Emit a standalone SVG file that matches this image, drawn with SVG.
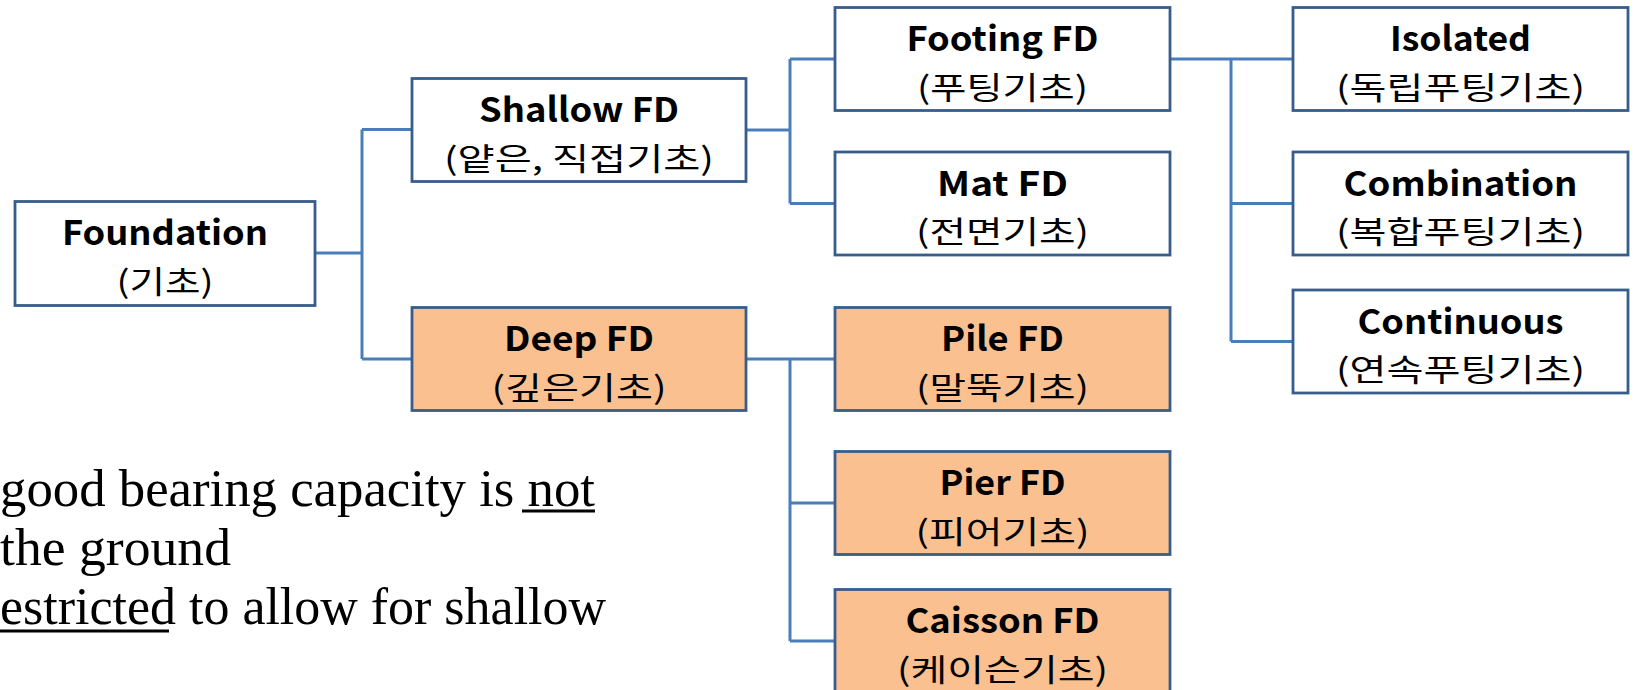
<svg xmlns="http://www.w3.org/2000/svg" width="1634" height="690" viewBox="0 0 1634 690">
<style>
.box{fill:#FFFFFF;stroke:#385D8A;stroke-width:2.8}
.deep{fill:#FAC090;stroke:#385D8A;stroke-width:2.8}
.t{font-family:"Noto Sans CJK KR","Open Sans",sans-serif;font-weight:bold;font-size:34px;fill:#000;text-anchor:middle}
.k{font-family:"Noto Sans CJK KR",sans-serif;font-size:31px;fill:#000;text-anchor:middle}
.conn{fill:none;stroke:#4A7EBB;stroke-width:3}
.body{font-family:"Liberation Serif","DejaVu Serif",serif;font-size:53px;fill:#000}
.ul{stroke:#000;stroke-width:3}
</style>
<rect width="1634" height="690" fill="#FFFFFF"/>
<g id="connectors">
<path class="conn" d="M315,253 H362 M362,129.5 V359 M362,129.5 H412 M362,359 H412"/>
<path class="conn" d="M746,130 H790 M790,59 V203.5 M790,59 H835 M790,203.5 H835"/>
<path class="conn" d="M1170,59 H1293 M1231,59 V341.5 M1231,203.5 H1293 M1231,341.5 H1293"/>
<path class="conn" d="M746,359 H835 M790,359 V641 M790,503 H835 M790,641 H835"/>
</g>
<g id="foundation">
<rect class="box" x="15" y="201.5" width="300" height="104"/>
<text class="t" x="165" y="245" textLength="206" lengthAdjust="spacingAndGlyphs">Foundation</text>
<text class="k" x="165" y="292.5" textLength="97" lengthAdjust="spacingAndGlyphs">(기초)</text>
</g>
<g id="shallow">
<rect class="box" x="412" y="78.5" width="334" height="103"/>
<text class="t" x="579" y="122" textLength="200" lengthAdjust="spacingAndGlyphs">Shallow FD</text>
<text class="k" x="579" y="169.5" textLength="270" lengthAdjust="spacingAndGlyphs">(얕은, 직접기초)</text>
</g>
<g id="deep">
<rect class="deep" x="412" y="307.5" width="334" height="103"/>
<text class="t" x="579" y="351" textLength="150" lengthAdjust="spacingAndGlyphs">Deep FD</text>
<text class="k" x="579" y="398.5" textLength="175" lengthAdjust="spacingAndGlyphs">(깊은기초)</text>
</g>
<g id="footing">
<rect class="box" x="835" y="7.5" width="335" height="103"/>
<text class="t" x="1002.5" y="51" textLength="192" lengthAdjust="spacingAndGlyphs">Footing FD</text>
<text class="k" x="1002.5" y="98.5" textLength="171" lengthAdjust="spacingAndGlyphs">(푸팅기초)</text>
</g>
<g id="mat">
<rect class="box" x="835" y="152" width="335" height="103"/>
<text class="t" x="1002.5" y="195.5" textLength="131" lengthAdjust="spacingAndGlyphs">Mat FD</text>
<text class="k" x="1002.5" y="243" textLength="173" lengthAdjust="spacingAndGlyphs">(전면기초)</text>
</g>
<g id="pile">
<rect class="deep" x="835" y="307.5" width="335" height="103"/>
<text class="t" x="1002.5" y="351" textLength="123" lengthAdjust="spacingAndGlyphs">Pile FD</text>
<text class="k" x="1002.5" y="398.5" textLength="173" lengthAdjust="spacingAndGlyphs">(말뚝기초)</text>
</g>
<g id="pier">
<rect class="deep" x="835" y="451.5" width="335" height="103"/>
<text class="t" x="1002.5" y="495" textLength="126" lengthAdjust="spacingAndGlyphs">Pier FD</text>
<text class="k" x="1002.5" y="542.5" textLength="174" lengthAdjust="spacingAndGlyphs">(피어기초)</text>
</g>
<g id="caisson">
<rect class="deep" x="835" y="589.5" width="335" height="103"/>
<text class="t" x="1002.5" y="633" textLength="194" lengthAdjust="spacingAndGlyphs">Caisson FD</text>
<text class="k" x="1002.5" y="680.5" textLength="211" lengthAdjust="spacingAndGlyphs">(케이슨기초)</text>
</g>
<g id="isolated">
<rect class="box" x="1293" y="7.5" width="335" height="103"/>
<text class="t" x="1460.5" y="51" textLength="141" lengthAdjust="spacingAndGlyphs">Isolated</text>
<text class="k" x="1460.5" y="98.5" textLength="249" lengthAdjust="spacingAndGlyphs">(독립푸팅기초)</text>
</g>
<g id="combination">
<rect class="box" x="1293" y="152" width="335" height="103"/>
<text class="t" x="1460.5" y="195.5" textLength="234" lengthAdjust="spacingAndGlyphs">Combination</text>
<text class="k" x="1460.5" y="243" textLength="249" lengthAdjust="spacingAndGlyphs">(복합푸팅기초)</text>
</g>
<g id="continuous">
<rect class="box" x="1293" y="290" width="335" height="103"/>
<text class="t" x="1460.5" y="333.5" textLength="206" lengthAdjust="spacingAndGlyphs">Continuous</text>
<text class="k" x="1460.5" y="381" textLength="249" lengthAdjust="spacingAndGlyphs">(연속푸팅기초)</text>
</g>
<g id="body-text">
<text class="body" x="0" y="506" textLength="595" lengthAdjust="spacingAndGlyphs">good bearing capacity is not</text>
<text class="body" x="0" y="565" textLength="231" lengthAdjust="spacingAndGlyphs">the ground</text>
<text class="body" x="0" y="624" textLength="606" lengthAdjust="spacingAndGlyphs">estricted to allow for shallow</text>
<line class="ul" x1="522" y1="511" x2="595" y2="511"/>
<line class="ul" x1="0" y1="631" x2="169" y2="631"/>
</g>
</svg>
